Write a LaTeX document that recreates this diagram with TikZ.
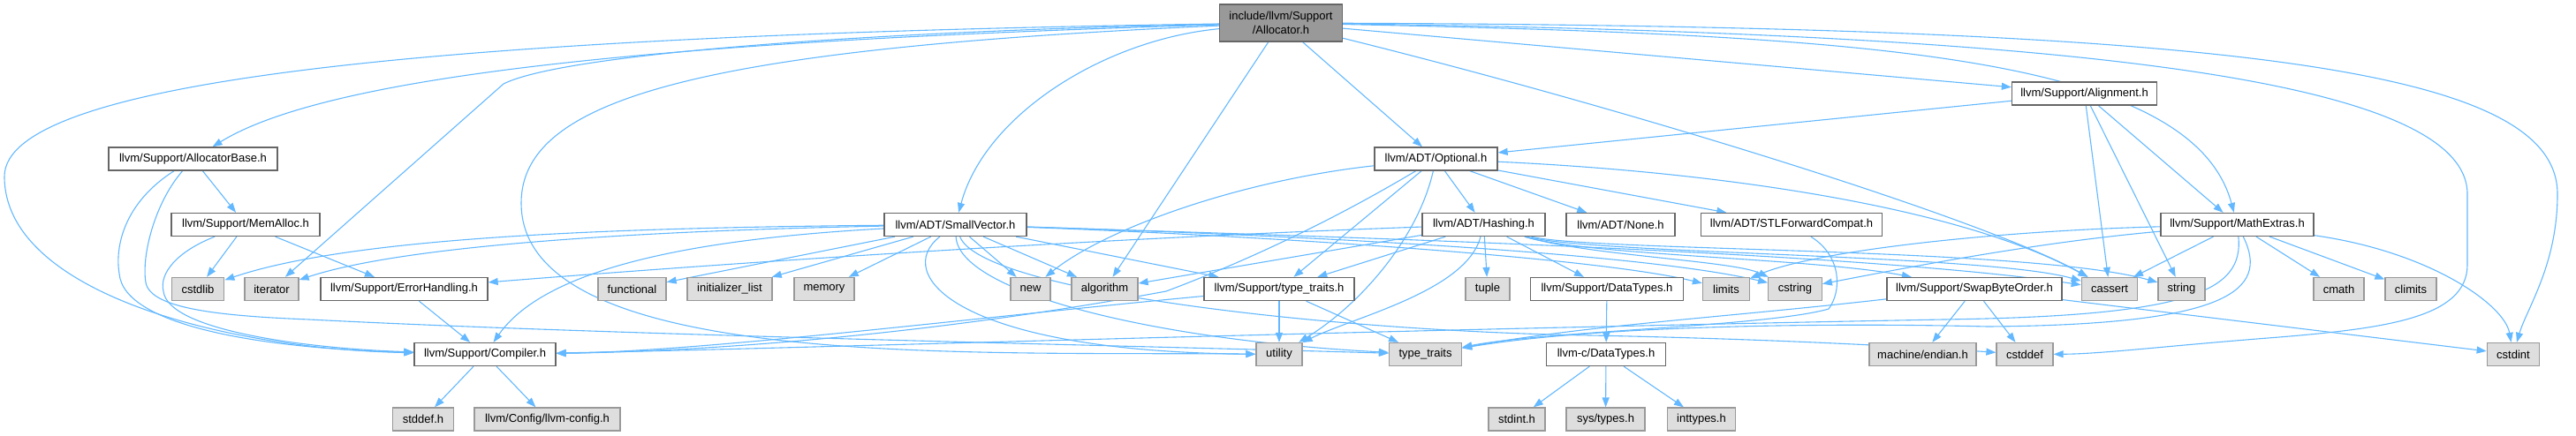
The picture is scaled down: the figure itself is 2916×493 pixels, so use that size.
\documentclass[tikz,border=0pt]{standalone}
\usepackage{fontspec}
\setmainfont{Liberation Sans}
\usetikzlibrary{arrows.meta}
\definecolor{edgec}{HTML}{63B8FF}
\definecolor{gforty}{HTML}{666666}
\definecolor{gsixty}{HTML}{999999}
\definecolor{geighty}{HTML}{DEDEDE}
\pgfdeclarelayer{bg}
\pgfsetlayers{bg,main}
\begin{document}
\begin{tikzpicture}[x=1pt,y=-1pt,
  hdr/.style={draw=gforty, fill=white, line width=1.3pt, minimum height=26pt, inner sep=0pt, font=\fontsize{13}{16}\selectfont},
  sys/.style={hdr, draw=gsixty, fill=geighty},
  rootbox/.style={hdr, draw=gforty, fill=gsixty, minimum height=42pt, align=center},
  dep/.style={draw=edgec, line width=1.1pt, -{Triangle[length=11pt,width=8pt]}}
]
\useasboundingbox (0,0) rectangle (2916,493);
% row 0
\node[rootbox, minimum width=139pt] (R) at (1450,26) {include/llvm/Support\\/Allocator.h};
% row 1
\node[hdr, minimum width=191pt] (AB) at (218.5,180) {llvm/Support/AllocatorBase.h};
\node[hdr, minimum width=139pt] (Opt) at (1625.5,180) {llvm/ADT/Optional.h};
\node[hdr, minimum width=164pt] (Al) at (2359.5,106) {llvm/Support/Alignment.h};
% row 2
\node[hdr, minimum width=168pt] (MA) at (278,254.5) {llvm/Support/MemAlloc.h};
\node[hdr, minimum width=161pt] (SV) at (1081.5,254.5) {llvm/ADT/SmallVector.h};
\node[hdr, minimum width=139pt] (H) at (1679.5,254.5) {llvm/ADT/Hashing.h};
\node[hdr, minimum width=123pt] (N) at (1834.5,254.5) {llvm/ADT/None.h};
\node[hdr, minimum width=205pt] (STL) at (2028,254.5) {llvm/ADT/STLForwardCompat.h};
\node[hdr, minimum width=173pt] (ME) at (2532.5,254.5) {llvm/Support/MathExtras.h};
% row 3
\node[sys, minimum width=59.5pt] (csl) at (224,327.5) {cstdlib};
\node[sys, minimum width=61pt] (it) at (307.5,327.5) {iterator};
\node[hdr, minimum width=189pt] (EH) at (457.5,327.5) {llvm/Support/ErrorHandling.h};
\node[sys, minimum width=77pt] (fn) at (715.5,327.5) {functional};
\node[sys, minimum width=96pt] (il) at (826,327.5) {initializer\_list};
\node[sys, minimum width=68pt] (mem) at (933,327.5) {memory};
\node[sys, minimum width=45pt] (nw) at (1166.5,327.5) {new};
\node[sys, minimum width=75pt] (alg) at (1250.5,327.5) {algorithm};
\node[hdr, minimum width=170pt] (tth) at (1448,327.5) {llvm/Support/type\_traits.h};
\node[sys, minimum width=50pt] (tup) at (1684,327.5) {tuple};
\node[hdr, minimum width=172.5pt] (DT) at (1819,327.5) {llvm/Support/DataTypes.h};
\node[sys, minimum width=53pt] (lim) at (1954,327.5) {limits};
\node[sys, minimum width=60.6pt] (cstr) at (2032,327.5) {cstring};
\node[hdr, minimum width=198pt] (SBO) at (2235,327.5) {llvm/Support/SwapByteOrder.h};
\node[sys, minimum width=63.4pt] (cas) at (2388,327.5) {cassert};
\node[sys, minimum width=53pt] (str) at (2469.5,327.5) {string};
\node[sys, minimum width=57pt] (cmath) at (2647.5,327.5) {cmath};
\node[sys, minimum width=58pt] (climits) at (2729,327.5) {climits};
% row 4
\node[hdr, minimum width=160pt] (C) at (549,401.5) {llvm/Support/Compiler.h};
\node[sys, minimum width=52pt] (ut) at (1448,401.5) {utility};
\node[sys, minimum width=82pt] (tt) at (1613.5,401.5) {type\_traits};
\node[hdr, minimum width=135pt] (cDT) at (1818,401.5) {llvm-c/DataTypes.h};
\node[sys, minimum width=121pt] (me) at (2176.5,401.5) {machine/endian.h};
\node[sys, minimum width=64pt] (cdf) at (2292,401.5) {cstddef};
\node[sys, minimum width=59.5pt] (cint) at (2845,401.5) {cstdint};
% row 5
\node[sys, minimum width=68.5pt] (sd) at (479,475) {stddef.h};
\node[sys, minimum width=165pt] (lc) at (619.5,475) {llvm/Config/llvm-config.h};
\node[sys, minimum width=64pt] (si) at (1717,475) {stdint.h};
\node[sys, minimum width=89pt] (st) at (1817.5,475) {sys/types.h};
\node[sys, minimum width=77.5pt] (itt) at (1926,475) {inttypes.h};

\begin{pgfonlayer}{bg}
% root
\draw[dep] (R) .. controls (500,40) and (5,90) .. (5,200) .. controls (5,330) and (250,395) .. (C);
\draw[dep] (R) .. controls (800,45) and (380,80) .. (AB);
\draw[dep] (R) .. controls (1000,35) and (640,60) .. (570,95) -- (it);
\draw[dep] (R) .. controls (1250,45) and (1115,130) .. (SV);
\draw[dep] (R) .. controls (800,55) and (590,110) .. (590,230) .. controls (590,420) and (1100,398) .. (ut);
\draw[dep] (R) -- (alg);
\draw[dep] (R) -- (Opt);
\draw[dep] (R) .. controls (1850,125) and (2250,250) .. (cas);
\draw[dep] (R) -- (Al);
\draw[dep] (R) .. controls (2100,40) and (2480,60) .. (ME);
\draw[dep] (R) .. controls (2350,38) and (2793,90) .. (2793,220) -- (2793,300) .. controls (2793,360) and (2700,372) .. (2580,382) .. controls (2450,392) and (2380,401) .. (cdf);
\draw[dep] (R) .. controls (2550,30) and (2895,80) .. (2895,220) .. controls (2895,300) and (2860,350) .. (cint);
% AllocatorBase
\draw[dep] (AB) .. controls (140,230) and (130,280) .. (135,310) .. controls (140,370) and (300,395) .. (C);
\draw[dep] (AB) .. controls (175,230) and (160,290) .. (165,320) .. controls (170,350) and (250,358) .. (350,362) .. controls (700,380) and (1300,392) .. (tt);
\draw[dep] (AB) -- (MA);
% MemAlloc
\draw[dep] (MA) -- (csl);
\draw[dep] (MA) -- (EH);
\draw[dep] (MA) .. controls (200,285) and (180,310) .. (185,330) .. controls (190,375) and (350,395) .. (C);
\draw[dep] (EH) -- (C);
\draw[dep] (C) -- (sd);
\draw[dep] (C) -- (lc);
% SmallVector
\draw[dep] (SV) .. controls (800,270) and (620,300) .. (C);
\draw[dep] (SV) .. controls (700,258) and (400,268) .. (csl);
\draw[dep] (SV) .. controls (700,262) and (450,280) .. (it);
\draw[dep] (SV) -- (fn);
\draw[dep] (SV) -- (il);
\draw[dep] (SV) -- (mem);
\draw[dep] (SV) -- (nw);
\draw[dep] (SV) -- (alg);
\draw[dep] (SV) -- (tth);
\draw[dep] (SV) .. controls (1010,310) and (1080,398) .. (ut);
\draw[dep] (SV) .. controls (1085,330) and (1300,385) .. (tt);
\draw[dep] (SV) .. controls (1110,330) and (1500,375) .. (1800,380) .. controls (2000,384) and (2150,392) .. (cdf);
\draw[dep] (SV) .. controls (1400,266) and (1800,290) .. (lim);
\draw[dep] (SV) .. controls (1450,266) and (1850,285) .. (cstr);
\draw[dep] (SV) .. controls (1500,268) and (2100,285) .. (cas);
% Optional
\draw[dep] (Opt) .. controls (1400,205) and (1250,260) .. (nw);
\draw[dep] (Opt) .. controls (1500,255) and (1400,300) .. (1320,330) .. controls (1050,380) and (800,398) .. (C);
\draw[dep] (Opt) -- (tth);
\draw[dep] (Opt) .. controls (1605,270) and (1540,345) .. (ut);
\draw[dep] (Opt) -- (H);
\draw[dep] (Opt) -- (N);
\draw[dep] (Opt) -- (STL);
\draw[dep] (Opt) .. controls (1950,195) and (2220,235) .. (cas);
% Hashing
\draw[dep] (H) .. controls (1200,272) and (800,300) .. (EH);
\draw[dep] (H) -- (alg);
\draw[dep] (H) -- (tth);
\draw[dep] (H) .. controls (1660,330) and (1530,360) .. (ut);
\draw[dep] (H) -- (tup);
\draw[dep] (H) -- (DT);
\draw[dep] (H) .. controls (1800,290) and (1960,295) .. (cstr);
\draw[dep] (H) .. controls (1800,288) and (2250,288) .. (cas);
\draw[dep] (H) .. controls (1800,285) and (2300,280) .. (str);
\draw[dep] (H) .. controls (1800,290) and (2050,292) .. (SBO);
% STLForwardCompat
\draw[dep] (STL) .. controls (2085,290) and (2085,330) .. (2070,350) .. controls (2000,370) and (1750,375) .. (tt);
% type_traits.h
\draw[dep] (tth) .. controls (1100,360) and (800,398) .. (C);
\draw[dep] (tth) -- (ut);
\draw[dep] (tth) -- (tt);
% DataTypes
\draw[dep] (DT) -- (cDT);
\draw[dep] (cDT) -- (si);
\draw[dep] (cDT) -- (st);
\draw[dep] (cDT) -- (itt);
% SwapByteOrder
\draw[dep] (SBO) .. controls (1950,360) and (1800,368) .. (tt);
\draw[dep] (SBO) -- (me);
\draw[dep] (SBO) -- (cdf);
\draw[dep] (SBO) -- (cint);
% Alignment
\draw[dep] (Al) -- (Opt);
\draw[dep] (Al) -- (cas);
\draw[dep] (Al) -- (str);
\draw[dep] (Al) -- (ME);
% MathExtras
\draw[dep] (ME) -- (cas);
\draw[dep] (ME) .. controls (2300,275) and (2150,305) .. (cstr);
\draw[dep] (ME) .. controls (2250,262) and (2050,285) .. (lim);
\draw[dep] (ME) -- (cmath);
\draw[dep] (ME) -- (climits);
\draw[dep] (ME) .. controls (2750,285) and (2835,345) .. (cint);
\draw[dep] (ME) .. controls (2540,330) and (2480,358) .. (2200,362) .. controls (1500,375) and (900,395) .. (C);
\draw[dep] (ME) .. controls (2570,330) and (2520,368) .. (2250,370) .. controls (2050,365) and (1800,370) .. (tt);
\end{pgfonlayer}
\end{tikzpicture}
\end{document}
